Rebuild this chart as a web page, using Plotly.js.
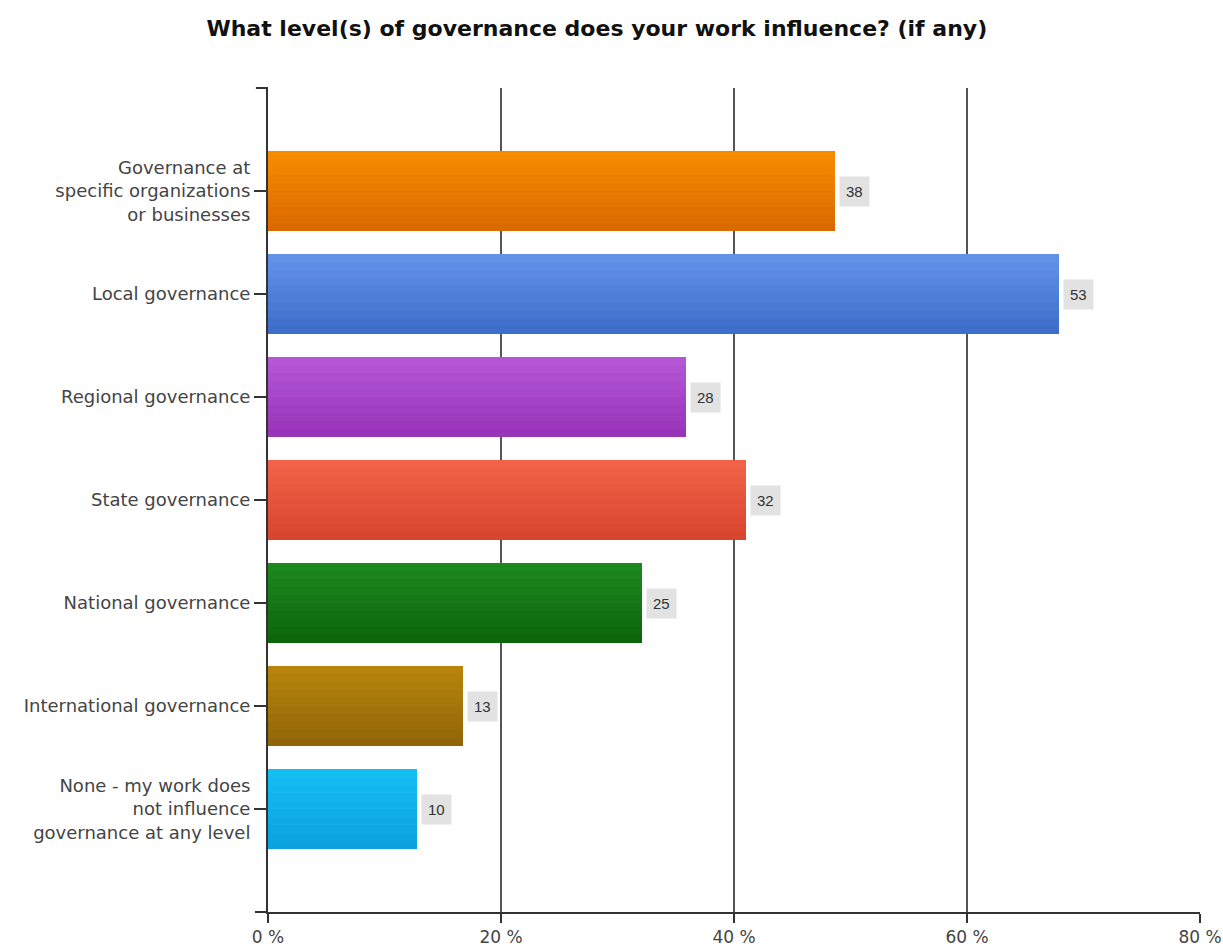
<!DOCTYPE html>
<html>
<head>
<meta charset="utf-8">
<script src="https://cdn.plot.ly/plotly-3.0.1.min.js"></script>
<style>html,body{margin:0;padding:0;background:#fff;}#chart{width:1223px;height:949px;}</style>
</head>
<body>
<div id="chart"></div>
<script>
const categories = [
  "Governance at<br>specific organizations<br>or businesses",
  "Local governance",
  "Regional governance",
  "State governance",
  "National governance",
  "International governance",
  "None - my work does<br>not influence<br>governance at any level"
];
const percents = [48.7, 67.9, 35.9, 41.0, 32.1, 16.7, 12.8];
const counts = [38, 53, 28, 32, 25, 13, 10];
const topColors = ["#f98d00", "#6494ea", "#b658d8", "#f2644a", "#1e8a1e", "#b8860c", "#14c0f4"];
const bottomColors = ["#d86800", "#3a6cc8", "#9632b8", "#d8442e", "#0a640a", "#906408", "#0aa0dc"];
const xTicks = [0, 20, 40, 60, 80];

function hexToRgb(h){return [parseInt(h.slice(1,3),16),parseInt(h.slice(3,5),16),parseInt(h.slice(5,7),16)];}
function mix(a,b,t){const A=hexToRgb(a),B=hexToRgb(b);return "rgb("+A.map((v,i)=>Math.round(v+(B[i]-v)*t)).join(",")+")";}

const barWidth = 0.78;
const bands = 10;
const traces = [];
for (let k = 0; k < bands; k++) {
  const t = (k + 0.5) / bands;
  traces.push({
    type: "bar",
    orientation: "h",
    y: categories,
    x: percents,
    width: barWidth / bands + 0.002,
    offset: -barWidth / 2 + k * barWidth / bands,
    marker: {color: categories.map((c, i) => mix(topColors[i], bottomColors[i], t)), line: {width: 0}},
    hoverinfo: "skip",
    showlegend: false
  });
}

const annotations = categories.map((c, i) => ({
  x: percents[i], y: c, xref: "x", yref: "y",
  text: String(counts[i]), showarrow: false,
  xanchor: "left", xshift: 4,
  bgcolor: "#e2e2e2", borderpad: 6,
  font: {family: "Liberation Sans, Arial, sans-serif", size: 15, color: "#333"}
}));

const layout = {
  width: 1223, height: 949,
  paper_bgcolor: "#fff", plot_bgcolor: "#fff",
  margin: {l: 268, r: 23, t: 88, b: 37},
  barmode: "overlay",
  bargap: 0,
  title: {
    text: "<b>What level(s) of governance does your work influence? (if any)</b>",
    x: 0.488, xanchor: "center", y: 0.970, yanchor: "middle",
    font: {family: "DejaVu Sans, Arial, sans-serif", size: 22, color: "#111"}
  },
  xaxis: {
    range: [0, 80], tickvals: xTicks, ticktext: xTicks.map(v => v + " %"),
    showgrid: true, gridcolor: "#555", gridwidth: 2,
    zeroline: false,
    showline: true, linecolor: "#333", linewidth: 2,
    ticks: "outside", ticklen: 9, tickcolor: "#333", tickwidth: 2,
    tickfont: {family: "DejaVu Sans, Arial, sans-serif", size: 17, color: "#444"},
    fixedrange: true
  },
  yaxis: {
    type: "category",
    range: [7, -1],
    showgrid: false, zeroline: false,
    showline: true, linecolor: "#333", linewidth: 2,
    ticks: "outside", ticklen: 12, tickcolor: "#333", tickwidth: 2,
    tickfont: {family: "DejaVu Sans, Arial, sans-serif", size: 18, color: "#444"},
    fixedrange: true
  },
  shapes: [
    {type: "line", xref: "paper", yref: "paper", x0: -0.013, x1: 0, y0: 1, y1: 1, line: {color: "#333", width: 2}},
    {type: "line", xref: "paper", yref: "paper", x0: -0.014, x1: 0, y0: 0, y1: 0, line: {color: "#333", width: 2}}
  ],
  annotations: annotations,
  showlegend: false
};

Plotly.newPlot("chart", traces, layout, {displayModeBar: false, staticPlot: true});
</script>
</body>
</html>
